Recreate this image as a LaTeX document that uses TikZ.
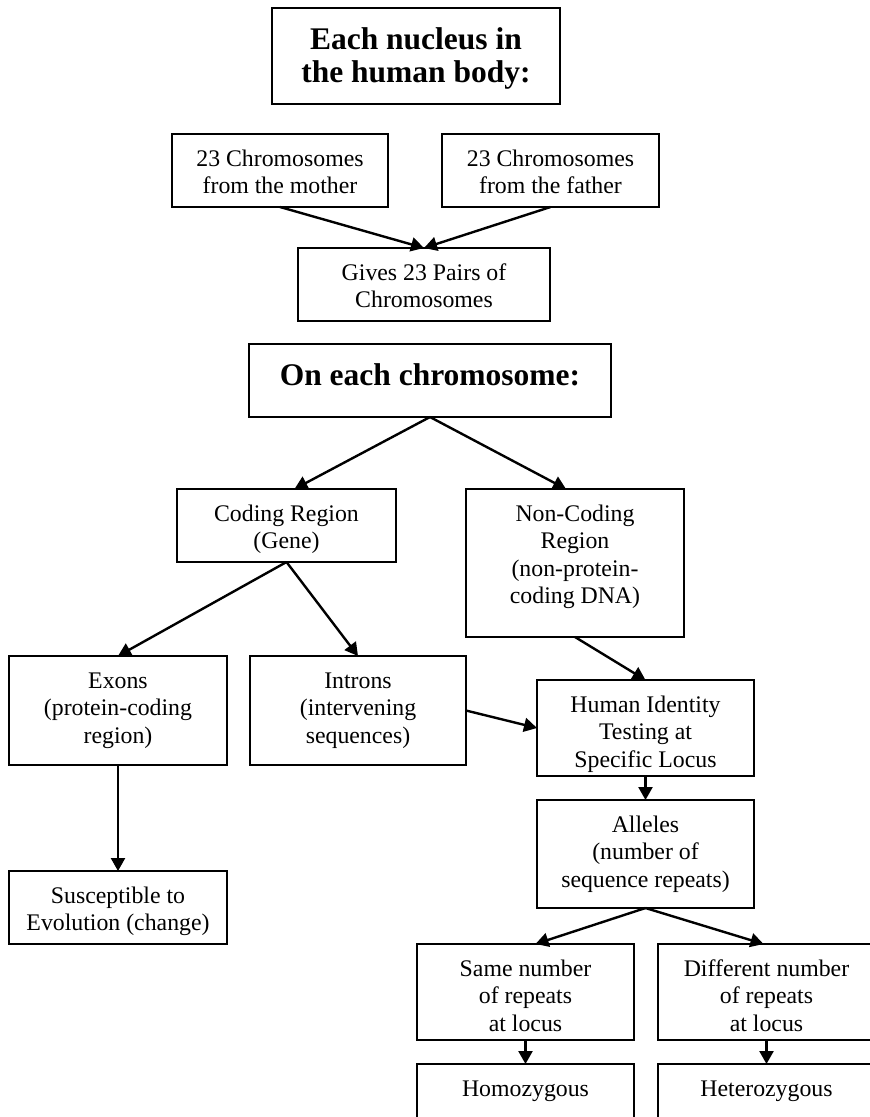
\documentclass[tikz,border=0pt]{standalone}
\usepackage{fontspec}
\setmainfont{Liberation Serif}
\usetikzlibrary{arrows.meta,calc}
\newcommand{\bxt}[3]{\parbox[t][#2][t]{#1}{\centering\rule{0pt}{32pt}#3}}
\newcommand{\bxb}[3]{\parbox[t][#2][t]{#1}{\centering\bfseries\fontsize{31.5}{33}\selectfont\rule{0pt}{41.5pt}#3}}
\begin{document}
\begin{tikzpicture}[x=1pt,y=-1pt,
  font=\fontsize{23.8}{27.5}\selectfont,
  box/.style={draw, line width=1.8pt, inner sep=0pt, outer sep=0pt, anchor=north west},
  arr/.style={line width=2.4pt, -{Triangle[length=13pt,width=14pt]}}]
\useasboundingbox (0,0) rectangle (870,1117);
\clip (0,0) rectangle (870,1117);
\fill[white] (0,0) rectangle (870,1117);

\node[box] (top) at (272,8) {\bxb{288pt}{96pt}{Each nucleus in\\the human body:}};
\node[box] (mother) at (172,134) {\bxt{216pt}{73pt}{23 Chromosomes\\from the mother}};
\node[box] (father) at (442,134) {\bxt{217pt}{73pt}{23 Chromosomes\\from the father}};
\node[box] (gives) at (298,248) {\bxt{252pt}{73pt}{Gives 23 Pairs of\\Chromosomes}};
\node[box] (oneach) at (249,344) {\bxb{362pt}{73pt}{On each chromosome:}};
\node[box] (coding) at (177,489) {\bxt{219pt}{73pt}{Coding Region\\(Gene)}};
\node[box] (noncoding) at (466,489) {\bxt{218pt}{148pt}{Non-Coding\\Region\\(non-protein-\\coding DNA)}};
\node[box] (exons) at (9,656) {\bxt{218pt}{109pt}{Exons\\(protein-coding\\region)}};
\node[box] (introns) at (250,656) {\bxt{216pt}{109pt}{Introns\\(intervening\\sequences)}};
\node[box] (hi) at (537,680) {\bxt{217pt}{96pt}{Human Identity\\Testing at\\Specific Locus}};
\node[box] (alleles) at (537,800) {\bxt{217pt}{108pt}{Alleles\\(number of\\sequence repeats)}};
\node[box] (susc) at (9,871) {\bxt{218pt}{73pt}{Susceptible to\\Evolution (change)}};
\node[box] (same) at (417,944) {\bxt{217pt}{96pt}{Same number\\of repeats\\at locus}};
\node[box] (diff) at (658,944) {\bxt{217pt}{96pt}{Different number\\of repeats\\at locus}};
\node[box] (homo) at (417,1064) {\bxt{217pt}{80pt}{Homozygous}};
\node[box] (het) at (658,1064) {\bxt{217pt}{80pt}{Heterozygous}};

\draw[arr] (mother.south) -- (gives.north);
\draw[arr] (father.south) -- (gives.north);
\draw[arr] (oneach.south) -- ($(coding.north)+(8,0)$);
\draw[arr] (oneach.south) -- ($(noncoding.north)+(-9,0)$);
\draw[arr] (coding.south) -- (exons.north);
\draw[arr] (coding.south) -- (introns.north);
\draw[arr] (exons.south) -- (susc.north);
\draw[arr] (introns.east) -- (hi.west);
\draw[arr] (noncoding.south) -- (hi.north);
\draw[arr] (hi.south) -- (alleles.north);
\draw[arr] (alleles.south) -- ($(same.north)+(10,0)$);
\draw[arr] (alleles.south) -- ($(diff.north)+(-3,0)$);
\draw[arr] (same.south) -- (homo.north);
\draw[arr] (diff.south) -- (het.north);
\end{tikzpicture}
\end{document}
